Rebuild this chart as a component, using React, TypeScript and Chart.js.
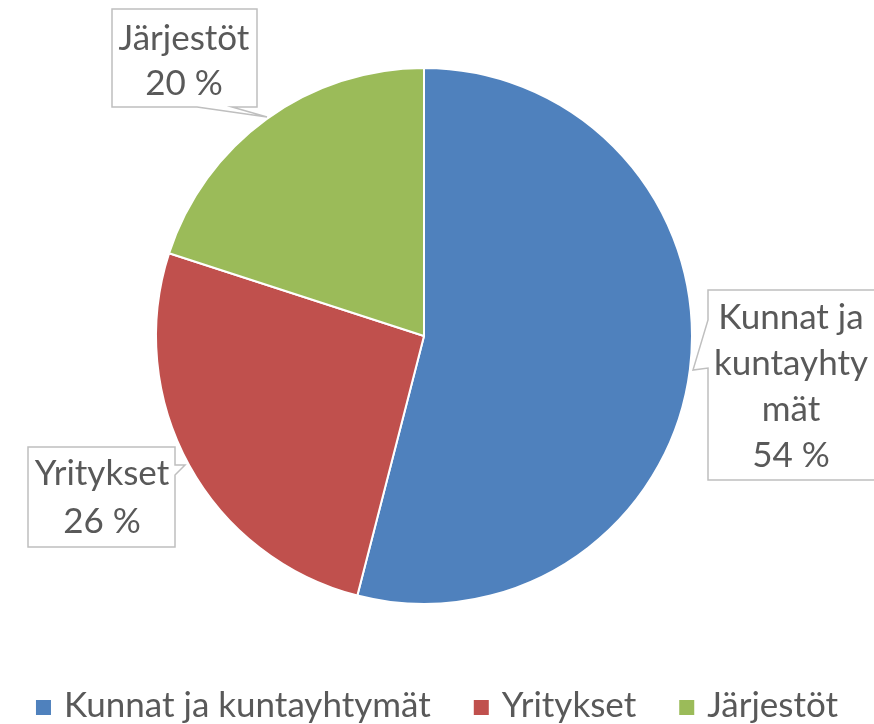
import React, { useEffect, useRef } from "react";
import { Chart, registerables } from "chart.js";

Chart.register(...registerables);

const categories = ["Kunnat ja kuntayhtymät", "Yritykset", "Järjestöt"];
const values = [54, 26, 20];
const colors = ["#4F81BD", "#C0504D", "#9BBB59"];
const calloutLines = [["Kunnat ja", "kuntayhty", "mät"], ["Yritykset"], ["Järjestöt"]];

const FONT = "Lato, 'Open Sans', sans-serif";
const TEXT_COLOR = "#595959";
const LABEL_SIZE = 35;
const LEGEND_SIZE = 35;

// callout boxes, offsets from pie centre (annotation layout)
const callouts = [
  { box: [284, -46, 460, 144], side: "left", base: [-16, 32], tip: [269, 34], tx: 367, lines: [-7, 39, 85, 131] },
  { box: [-396, 111, -249, 211], side: "right", base: [129, 139], tip: [-239, 129], tx: -322, lines: [149, 197] },
  { box: [-312, -327, -167, -229], side: "bottom", base: [-227, -192], tip: [-157, -219], tx: -240, lines: [-286, -241] },
];

const calloutPlugin = {
  id: "callouts",
  afterDatasetsDraw(chart: any) {
    const ctx = chart.ctx;
    const arc = chart.getDatasetMeta(0).data[0];
    const cx = arc.x;
    const cy = arc.y;
    const data = chart.data.datasets[0].data as number[];
    const total = data.reduce((a, b) => a + b, 0);
    ctx.save();
    callouts.forEach((c, i) => {
      const [x0, y0, x1, y1] = [c.box[0] + cx, c.box[1] + cy, c.box[2] + cx, c.box[3] + cy];
      const tx = c.tip[0] + cx;
      const ty = c.tip[1] + cy;
      ctx.beginPath();
      if (c.side === "bottom") {
        const b0 = c.base[0] + cx, b1 = c.base[1] + cx;
        ctx.moveTo(x0, y0); ctx.lineTo(x1, y0); ctx.lineTo(x1, y1); ctx.lineTo(b1, y1);
        ctx.lineTo(tx, ty); ctx.lineTo(b0, y1); ctx.lineTo(x0, y1);
      } else if (c.side === "left") {
        const b0 = c.base[0] + cy, b1 = c.base[1] + cy;
        ctx.moveTo(x0, y0); ctx.lineTo(x1, y0); ctx.lineTo(x1, y1); ctx.lineTo(x0, y1);
        ctx.lineTo(x0, b1); ctx.lineTo(tx, ty); ctx.lineTo(x0, b0);
      } else {
        const b0 = c.base[0] + cy, b1 = c.base[1] + cy;
        ctx.moveTo(x0, y0); ctx.lineTo(x1, y0); ctx.lineTo(x1, b0); ctx.lineTo(tx, ty);
        ctx.lineTo(x1, b1); ctx.lineTo(x1, y1); ctx.lineTo(x0, y1);
      }
      ctx.closePath();
      ctx.fillStyle = "#FFFFFF";
      ctx.fill();
      ctx.strokeStyle = "#BFBFBF";
      ctx.lineWidth = 1.5;
      ctx.stroke();

      const pct = Math.round((data[i] / total) * 100) + " %";
      const lines = [...calloutLines[i], pct];
      ctx.fillStyle = TEXT_COLOR;
      ctx.font = `${LABEL_SIZE}px ${FONT}`;
      ctx.textAlign = "center";
      ctx.textBaseline = "alphabetic";
      lines.forEach((t, k) => ctx.fillText(t, c.tx + cx, c.lines[k] + cy));
    });

    // legend
    ctx.font = `${LEGEND_SIZE}px ${FONT}`;
    const sq = 15, gap = 13, itemGap = 43;
    const labels = chart.data.labels as string[];
    const widths = labels.map((l) => ctx.measureText(l).width);
    const total_w = widths.reduce((a, w) => a + sq + gap + w, 0) + itemGap * (labels.length - 1);
    let x = chart.width / 2 - total_w / 2;
    const baseY = 717;
    labels.forEach((l, i) => {
      ctx.fillStyle = colors[i];
      ctx.fillRect(x, baseY - 17, sq, sq);
      x += sq + gap;
      ctx.fillStyle = TEXT_COLOR;
      ctx.textAlign = "left";
      ctx.fillText(l, x, baseY);
      x += widths[i] + itemGap;
    });
    ctx.restore();
  },
};

export default function App() {
  const ref = useRef<HTMLCanvasElement>(null);
  useEffect(() => {
    if (!ref.current) return;
    const chart = new Chart(ref.current, {
      type: "pie",
      data: {
        labels: categories,
        datasets: [
          {
            data: values,
            backgroundColor: colors,
            borderColor: "#FFFFFF",
            borderWidth: 2,
          },
        ],
      },
      options: {
        animation: false,
        responsive: false,
        maintainAspectRatio: false,
        layout: { padding: { left: 0, right: 26, top: 67, bottom: 119 } },
        plugins: {
          legend: { display: false },
          tooltip: { enabled: false },
        },
      },
      plugins: [calloutPlugin],
    });
    return () => chart.destroy();
  }, []);
  return (
    <div style={{ position: "fixed", left: 0, top: 0, width: 874, height: 724, background: "#fff" }}>
      <canvas ref={ref} width={874} height={724} style={{ width: 874, height: 724 }} />
    </div>
  );
}
